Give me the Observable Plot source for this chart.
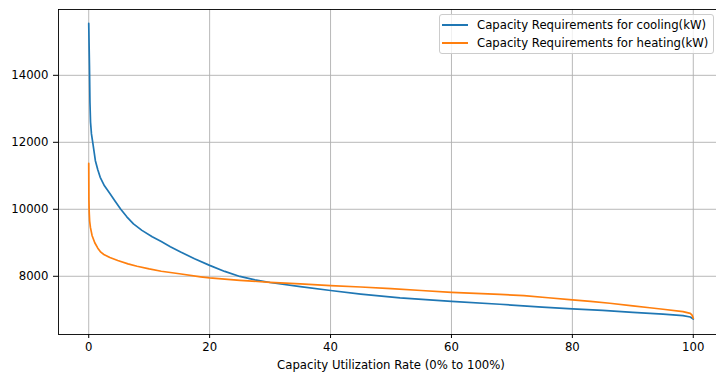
<!DOCTYPE html>
<html>
<head>
<meta charset="utf-8">
<script src="https://cdn.jsdelivr.net/npm/d3@7"></script>
<script src="https://cdn.jsdelivr.net/npm/@observablehq/plot@0.6"></script>
<style>
  html, body { margin: 0; padding: 0; background: white; overflow: hidden; }
  #wrap { position: relative; width: 716px; height: 374px; }
  #legend {
    position: absolute; left: 439px; top: 14px; width: 273px; height: 38px;
    border: 1px solid #cccccc; border-radius: 3px; background: rgba(255,255,255,0.8);
    font-family: "DejaVu Sans", sans-serif; font-size: 11.7px; color: black;
  }
  #legend .row { position: absolute; left: 0; height: 18px; display: flex; align-items: center; white-space: nowrap; }
  #legend .sw { width: 26px; height: 2px; margin-left: 2px; margin-right: 9px; }
</style>
</head>
<body>
<div id="wrap"></div>
<script>
// Load duration curves: share of hours (%) vs required capacity (kW)
const coolingRate = [0, 0.12, 0.2, 0.3, 0.45, 0.7, 1.1, 1.5, 1.9, 2.6, 3.5, 4.4, 5.3, 6.3, 7.4, 8.8, 10.5, 12, 13.5, 15.2, 17.5, 20, 22.5, 25, 27.5, 30, 35, 40, 45, 51.5, 60, 68, 75, 80, 85, 90, 95, 98.3, 99.5, 100];
const coolingKW   = [15550, 14300, 13200, 12600, 12250, 11950, 11450, 11180, 10955, 10700, 10470, 10230, 10000, 9775, 9564, 9370, 9180, 9035, 8885, 8725, 8525, 8325, 8145, 7995, 7895, 7815, 7690, 7575, 7470, 7355, 7250, 7165, 7080, 7025, 6980, 6925, 6870, 6825, 6785, 6725];

const heatingRate = [0, 0.03, 0.08, 0.15, 0.28, 0.55, 1.0, 1.5, 2.0, 2.5, 3.5, 4.8, 6.5, 8.0, 10, 12, 15, 18.5, 20, 25, 30, 35, 40, 45, 50, 55, 60, 65, 68, 72, 76, 80, 83, 86.2, 90, 92.8, 95, 98.3, 99.5, 99.8, 100];
const heatingKW   = [11370, 10300, 9900, 9650, 9460, 9220, 9000, 8840, 8720, 8650, 8560, 8470, 8370, 8300, 8220, 8150, 8075, 7985, 7952, 7880, 7820, 7773, 7722, 7680, 7630, 7575, 7522, 7480, 7460, 7420, 7360, 7295, 7250, 7195, 7116, 7060, 7015, 6946, 6895, 6840, 6750];

const xTicks = [0, 20, 40, 60, 80, 100];
const yTicks = [8000, 10000, 12000, 14000];

const seriesNames = ["Capacity Requirements for cooling(kW)", "Capacity Requirements for heating(kW)"];
const seriesColors = ["#1f77b4", "#ff7f0e"];

const chart = Plot.plot({
  width: 716,
  height: 374,
  marginLeft: 58,
  marginRight: -7,
  marginTop: 9,
  marginBottom: 40,
  x: {domain: [-5, 105]},
  y: {domain: [6262, 15965]},
  style: {fontFamily: "DejaVu Sans", fontSize: "11.7px", color: "black", background: "white"},
  marks: [
    Plot.gridX(xTicks, {stroke: "#b0b0b0", strokeOpacity: 1, strokeWidth: 0.9}),
    Plot.gridY(yTicks, {stroke: "#b0b0b0", strokeOpacity: 1, strokeWidth: 0.9}),
    Plot.line(coolingKW, {x: coolingRate, y: coolingKW, stroke: seriesColors[0], strokeWidth: 1.7}),
    Plot.line(heatingKW, {x: heatingRate, y: heatingKW, stroke: seriesColors[1], strokeWidth: 1.7}),
    Plot.frame({stroke: "black", strokeWidth: 0.9}),
    Plot.axisX(xTicks, {
      tickSize: 4, tickPadding: 4, tickFormat: "d",
      label: "Capacity Utilization Rate (0% to 100%)",
      labelAnchor: "center", labelArrow: "none", labelOffset: 34
    }),
    Plot.axisY(yTicks, {tickSize: 5, tickPadding: 5, tickFormat: "d", label: null})
  ]
});

const wrap = document.getElementById("wrap");
wrap.appendChild(chart);

// Legend box in the upper-right corner of the axes
const legend = document.createElement("div");
legend.id = "legend";
seriesNames.forEach((name, i) => {
  const row = document.createElement("div");
  row.className = "row";
  row.style.top = (1 + i * 18) + "px";
  const sw = document.createElement("span");
  sw.className = "sw";
  sw.style.background = seriesColors[i];
  const label = document.createElement("span");
  label.textContent = name;
  row.appendChild(sw);
  row.appendChild(label);
  legend.appendChild(row);
});
wrap.appendChild(legend);
</script>
</body>
</html>
